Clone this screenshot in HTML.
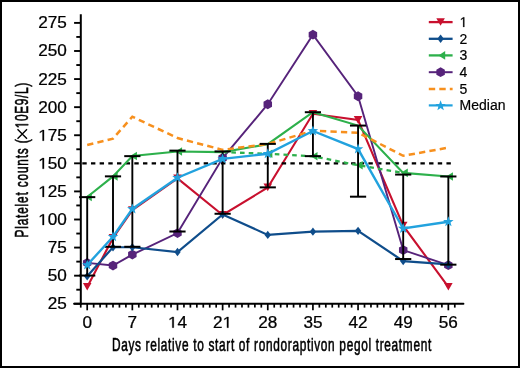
<!DOCTYPE html>
<html><head><meta charset="utf-8">
<style>
html,body{margin:0;padding:0;background:#fff;}
body{width:520px;height:368px;overflow:hidden;}
.wrap{position:relative;width:516px;height:364px;border:2px solid #000;background:#fff;}
svg{position:absolute;left:-2px;top:-2px;}
svg.t{filter:grayscale(1);}
.tk{font-family:"Liberation Sans",sans-serif;font-size:15.6px;fill:#000;stroke:#000;stroke-width:0.25px;}
.ti{font-family:"Liberation Sans",sans-serif;font-size:18.5px;fill:#000;font-weight:normal;stroke:#000;stroke-width:0.6px;}
.h1{fill-opacity:0;stroke-opacity:0;}
.lg{font-family:"Liberation Sans",sans-serif;font-size:14px;fill:#000;stroke:#000;stroke-width:0.2px;}
</style></head><body><div class="wrap">
<svg width="520" height="368" viewBox="0 0 520 368">
<line x1="80.8" y1="14.2" x2="80.8" y2="304.7" stroke="#000" stroke-width="2"/>
<line x1="74" y1="303.75" x2="463.5" y2="303.75" stroke="#000" stroke-width="1.8" stroke-linecap="round"/>
<line x1="74.1" y1="303.75" x2="80.8" y2="303.75" stroke="#000" stroke-width="1.9"/>
<line x1="74.1" y1="275.67" x2="80.8" y2="275.67" stroke="#000" stroke-width="1.9"/>
<line x1="74.1" y1="247.58" x2="80.8" y2="247.58" stroke="#000" stroke-width="1.9"/>
<line x1="74.1" y1="219.50" x2="80.8" y2="219.50" stroke="#000" stroke-width="1.9"/>
<line x1="74.1" y1="191.41" x2="80.8" y2="191.41" stroke="#000" stroke-width="1.9"/>
<line x1="74.1" y1="163.33" x2="80.8" y2="163.33" stroke="#000" stroke-width="1.9"/>
<line x1="74.1" y1="135.24" x2="80.8" y2="135.24" stroke="#000" stroke-width="1.9"/>
<line x1="74.1" y1="107.16" x2="80.8" y2="107.16" stroke="#000" stroke-width="1.9"/>
<line x1="74.1" y1="79.07" x2="80.8" y2="79.07" stroke="#000" stroke-width="1.9"/>
<line x1="74.1" y1="50.99" x2="80.8" y2="50.99" stroke="#000" stroke-width="1.9"/>
<line x1="74.1" y1="22.90" x2="80.8" y2="22.90" stroke="#000" stroke-width="1.9"/>
<line x1="76.3" y1="289.71" x2="80.8" y2="289.71" stroke="#000" stroke-width="1.9"/>
<line x1="76.3" y1="261.62" x2="80.8" y2="261.62" stroke="#000" stroke-width="1.9"/>
<line x1="76.3" y1="233.54" x2="80.8" y2="233.54" stroke="#000" stroke-width="1.9"/>
<line x1="76.3" y1="205.45" x2="80.8" y2="205.45" stroke="#000" stroke-width="1.9"/>
<line x1="76.3" y1="177.37" x2="80.8" y2="177.37" stroke="#000" stroke-width="1.9"/>
<line x1="76.3" y1="149.28" x2="80.8" y2="149.28" stroke="#000" stroke-width="1.9"/>
<line x1="76.3" y1="121.20" x2="80.8" y2="121.20" stroke="#000" stroke-width="1.9"/>
<line x1="76.3" y1="93.11" x2="80.8" y2="93.11" stroke="#000" stroke-width="1.9"/>
<line x1="76.3" y1="65.03" x2="80.8" y2="65.03" stroke="#000" stroke-width="1.9"/>
<line x1="76.3" y1="36.94" x2="80.8" y2="36.94" stroke="#000" stroke-width="1.9"/>
<line x1="80.75" y1="303.75" x2="80.75" y2="307.6" stroke="#000" stroke-width="1.7"/>
<line x1="87.20" y1="303.75" x2="87.20" y2="310.3" stroke="#000" stroke-width="1.7"/>
<line x1="93.65" y1="303.75" x2="93.65" y2="307.6" stroke="#000" stroke-width="1.7"/>
<line x1="100.10" y1="303.75" x2="100.10" y2="307.6" stroke="#000" stroke-width="1.7"/>
<line x1="106.55" y1="303.75" x2="106.55" y2="307.6" stroke="#000" stroke-width="1.7"/>
<line x1="113.00" y1="303.75" x2="113.00" y2="307.6" stroke="#000" stroke-width="1.7"/>
<line x1="119.44" y1="303.75" x2="119.44" y2="307.6" stroke="#000" stroke-width="1.7"/>
<line x1="125.89" y1="303.75" x2="125.89" y2="307.6" stroke="#000" stroke-width="1.7"/>
<line x1="132.34" y1="303.75" x2="132.34" y2="310.3" stroke="#000" stroke-width="1.7"/>
<line x1="138.79" y1="303.75" x2="138.79" y2="307.6" stroke="#000" stroke-width="1.7"/>
<line x1="145.24" y1="303.75" x2="145.24" y2="307.6" stroke="#000" stroke-width="1.7"/>
<line x1="151.69" y1="303.75" x2="151.69" y2="307.6" stroke="#000" stroke-width="1.7"/>
<line x1="158.14" y1="303.75" x2="158.14" y2="307.6" stroke="#000" stroke-width="1.7"/>
<line x1="164.59" y1="303.75" x2="164.59" y2="307.6" stroke="#000" stroke-width="1.7"/>
<line x1="171.04" y1="303.75" x2="171.04" y2="307.6" stroke="#000" stroke-width="1.7"/>
<line x1="177.49" y1="303.75" x2="177.49" y2="310.3" stroke="#000" stroke-width="1.7"/>
<line x1="183.94" y1="303.75" x2="183.94" y2="307.6" stroke="#000" stroke-width="1.7"/>
<line x1="190.38" y1="303.75" x2="190.38" y2="307.6" stroke="#000" stroke-width="1.7"/>
<line x1="196.83" y1="303.75" x2="196.83" y2="307.6" stroke="#000" stroke-width="1.7"/>
<line x1="203.28" y1="303.75" x2="203.28" y2="307.6" stroke="#000" stroke-width="1.7"/>
<line x1="209.73" y1="303.75" x2="209.73" y2="307.6" stroke="#000" stroke-width="1.7"/>
<line x1="216.18" y1="303.75" x2="216.18" y2="307.6" stroke="#000" stroke-width="1.7"/>
<line x1="222.63" y1="303.75" x2="222.63" y2="310.3" stroke="#000" stroke-width="1.7"/>
<line x1="229.08" y1="303.75" x2="229.08" y2="307.6" stroke="#000" stroke-width="1.7"/>
<line x1="235.53" y1="303.75" x2="235.53" y2="307.6" stroke="#000" stroke-width="1.7"/>
<line x1="241.98" y1="303.75" x2="241.98" y2="307.6" stroke="#000" stroke-width="1.7"/>
<line x1="248.43" y1="303.75" x2="248.43" y2="307.6" stroke="#000" stroke-width="1.7"/>
<line x1="254.87" y1="303.75" x2="254.87" y2="307.6" stroke="#000" stroke-width="1.7"/>
<line x1="261.32" y1="303.75" x2="261.32" y2="307.6" stroke="#000" stroke-width="1.7"/>
<line x1="267.77" y1="303.75" x2="267.77" y2="310.3" stroke="#000" stroke-width="1.7"/>
<line x1="274.22" y1="303.75" x2="274.22" y2="307.6" stroke="#000" stroke-width="1.7"/>
<line x1="280.67" y1="303.75" x2="280.67" y2="307.6" stroke="#000" stroke-width="1.7"/>
<line x1="287.12" y1="303.75" x2="287.12" y2="307.6" stroke="#000" stroke-width="1.7"/>
<line x1="293.57" y1="303.75" x2="293.57" y2="307.6" stroke="#000" stroke-width="1.7"/>
<line x1="300.02" y1="303.75" x2="300.02" y2="307.6" stroke="#000" stroke-width="1.7"/>
<line x1="306.47" y1="303.75" x2="306.47" y2="307.6" stroke="#000" stroke-width="1.7"/>
<line x1="312.92" y1="303.75" x2="312.92" y2="310.3" stroke="#000" stroke-width="1.7"/>
<line x1="319.36" y1="303.75" x2="319.36" y2="307.6" stroke="#000" stroke-width="1.7"/>
<line x1="325.81" y1="303.75" x2="325.81" y2="307.6" stroke="#000" stroke-width="1.7"/>
<line x1="332.26" y1="303.75" x2="332.26" y2="307.6" stroke="#000" stroke-width="1.7"/>
<line x1="338.71" y1="303.75" x2="338.71" y2="307.6" stroke="#000" stroke-width="1.7"/>
<line x1="345.16" y1="303.75" x2="345.16" y2="307.6" stroke="#000" stroke-width="1.7"/>
<line x1="351.61" y1="303.75" x2="351.61" y2="307.6" stroke="#000" stroke-width="1.7"/>
<line x1="358.06" y1="303.75" x2="358.06" y2="310.3" stroke="#000" stroke-width="1.7"/>
<line x1="364.51" y1="303.75" x2="364.51" y2="307.6" stroke="#000" stroke-width="1.7"/>
<line x1="370.96" y1="303.75" x2="370.96" y2="307.6" stroke="#000" stroke-width="1.7"/>
<line x1="377.40" y1="303.75" x2="377.40" y2="307.6" stroke="#000" stroke-width="1.7"/>
<line x1="383.85" y1="303.75" x2="383.85" y2="307.6" stroke="#000" stroke-width="1.7"/>
<line x1="390.30" y1="303.75" x2="390.30" y2="307.6" stroke="#000" stroke-width="1.7"/>
<line x1="396.75" y1="303.75" x2="396.75" y2="307.6" stroke="#000" stroke-width="1.7"/>
<line x1="403.20" y1="303.75" x2="403.20" y2="310.3" stroke="#000" stroke-width="1.7"/>
<line x1="409.65" y1="303.75" x2="409.65" y2="307.6" stroke="#000" stroke-width="1.7"/>
<line x1="416.10" y1="303.75" x2="416.10" y2="307.6" stroke="#000" stroke-width="1.7"/>
<line x1="422.55" y1="303.75" x2="422.55" y2="307.6" stroke="#000" stroke-width="1.7"/>
<line x1="429.00" y1="303.75" x2="429.00" y2="307.6" stroke="#000" stroke-width="1.7"/>
<line x1="435.45" y1="303.75" x2="435.45" y2="307.6" stroke="#000" stroke-width="1.7"/>
<line x1="441.89" y1="303.75" x2="441.89" y2="307.6" stroke="#000" stroke-width="1.7"/>
<line x1="448.34" y1="303.75" x2="448.34" y2="310.3" stroke="#000" stroke-width="1.7"/>
<line x1="454.79" y1="303.75" x2="454.79" y2="307.6" stroke="#000" stroke-width="1.7"/>
<path d="M17.5,129.3L27,138.7M17.5,138.7L27,129.3" stroke="#000" stroke-width="1.4" fill="none"/>
<polyline points="87.20,286.90 113.00,237.92 132.34,210.17 177.49,178.38 222.63,215.00 267.77,187.48 312.92,113.78 358.06,119.96 403.20,225.67 448.34,286.90" fill="none" stroke="#C8102E" stroke-width="2.1"/>
<path d="M82.90,283.00L91.50,283.00L87.20,290.60Z" fill="#C8102E"/>
<path d="M108.70,234.02L117.30,234.02L113.00,241.62Z" fill="#C8102E"/>
<path d="M128.04,206.27L136.64,206.27L132.34,213.87Z" fill="#C8102E"/>
<path d="M173.19,174.48L181.79,174.48L177.49,182.08Z" fill="#C8102E"/>
<path d="M218.33,211.10L226.93,211.10L222.63,218.70Z" fill="#C8102E"/>
<path d="M263.47,183.58L272.07,183.58L267.77,191.18Z" fill="#C8102E"/>
<path d="M308.62,109.88L317.22,109.88L312.92,117.48Z" fill="#C8102E"/>
<path d="M353.76,116.06L362.36,116.06L358.06,123.66Z" fill="#C8102E"/>
<path d="M398.90,221.77L407.50,221.77L403.20,229.37Z" fill="#C8102E"/>
<path d="M444.04,283.00L452.64,283.00L448.34,290.60Z" fill="#C8102E"/>
<line x1="82.3" y1="163.33" x2="451" y2="163.33" stroke="#000" stroke-width="2.2" stroke-dasharray="4.4 4.27"/>
<polyline points="87.20,262.86 113.00,265.55 132.34,254.55 177.49,233.09 222.63,158.05 267.77,104.23 312.92,34.70 358.06,96.26 403.20,250.05 448.34,265.22" fill="none" stroke="#56237A" stroke-width="1.9"/>
<polygon points="87.20,257.96 82.96,260.41 82.96,265.31 87.20,267.76 91.44,265.31 91.44,260.41" fill="#56237A"/>
<polygon points="113.00,260.65 108.75,263.10 108.75,268.00 113.00,270.45 117.24,268.00 117.24,263.10" fill="#56237A"/>
<polygon points="132.34,249.65 128.10,252.10 128.10,257.00 132.34,259.45 136.59,257.00 136.59,252.10" fill="#56237A"/>
<polygon points="177.49,228.19 173.24,230.64 173.24,235.54 177.49,237.99 181.73,235.54 181.73,230.64" fill="#56237A"/>
<polygon points="222.63,153.15 218.39,155.60 218.39,160.50 222.63,162.95 226.87,160.50 226.87,155.60" fill="#56237A"/>
<polygon points="267.77,99.33 263.53,101.78 263.53,106.68 267.77,109.13 272.02,106.68 272.02,101.78" fill="#56237A"/>
<polygon points="312.92,29.80 308.67,32.25 308.67,37.15 312.92,39.60 317.16,37.15 317.16,32.25" fill="#56237A"/>
<polygon points="358.06,91.36 353.81,93.81 353.81,98.71 358.06,101.16 362.30,98.71 362.30,93.81" fill="#56237A"/>
<polygon points="403.20,245.15 398.96,247.60 398.96,252.50 403.20,254.95 407.44,252.50 407.44,247.60" fill="#56237A"/>
<polygon points="448.34,260.32 444.10,262.77 444.10,267.67 448.34,270.12 452.59,267.67 452.59,262.77" fill="#56237A"/>
<polyline points="87.20,276.23 113.00,247.24 132.34,247.24 177.49,252.07 222.63,214.44 267.77,234.89 312.92,231.63 358.06,230.84 403.20,261.06 448.34,264.43" fill="none" stroke="#0F4D8B" stroke-width="2.2"/>
<path d="M87.20,272.03L90.40,276.23L87.20,280.43L84.00,276.23Z" fill="#0F4D8B"/>
<path d="M113.00,243.04L116.20,247.24L113.00,251.44L109.80,247.24Z" fill="#0F4D8B"/>
<path d="M132.34,243.04L135.54,247.24L132.34,251.44L129.14,247.24Z" fill="#0F4D8B"/>
<path d="M177.49,247.87L180.69,252.07L177.49,256.27L174.29,252.07Z" fill="#0F4D8B"/>
<path d="M222.63,210.24L225.83,214.44L222.63,218.64L219.43,214.44Z" fill="#0F4D8B"/>
<path d="M267.77,230.69L270.97,234.89L267.77,239.09L264.57,234.89Z" fill="#0F4D8B"/>
<path d="M312.92,227.43L316.12,231.63L312.92,235.83L309.72,231.63Z" fill="#0F4D8B"/>
<path d="M358.06,226.64L361.26,230.84L358.06,235.04L354.86,230.84Z" fill="#0F4D8B"/>
<path d="M403.20,256.86L406.40,261.06L403.20,265.26L400.00,261.06Z" fill="#0F4D8B"/>
<path d="M448.34,260.23L451.54,264.43L448.34,268.63L445.14,264.43Z" fill="#0F4D8B"/>
<polyline points="87.20,197.03 113.00,176.36 132.34,156.02 177.49,151.53 222.63,152.09 267.77,144.23 312.92,112.21 358.06,125.58 403.20,172.87 448.34,176.47" fill="none" stroke="#2DB04B" stroke-width="2.1"/>
<path d="M85.00,197.03L91.80,192.73L91.80,201.33Z" fill="#2DB04B"/>
<path d="M110.80,176.36L117.60,172.06L117.60,180.66Z" fill="#2DB04B"/>
<path d="M130.14,156.02L136.94,151.72L136.94,160.32Z" fill="#2DB04B"/>
<path d="M175.29,151.53L182.09,147.23L182.09,155.83Z" fill="#2DB04B"/>
<path d="M401.00,172.87L407.80,168.57L407.80,177.17Z" fill="#2DB04B"/>
<path d="M446.14,176.47L452.94,172.17L452.94,180.77Z" fill="#2DB04B"/>
<polyline points="222.63,152.09 267.77,153.78 312.92,156.25 358.06,165.23 403.20,172.87" fill="none" stroke="#2DB04B" stroke-width="2.3" stroke-dasharray="4.6 4.1"/>
<path d="M265.57,153.78L272.37,149.48L272.37,158.08Z" fill="#2DB04B"/>
<path d="M310.72,156.25L317.52,151.95L317.52,160.55Z" fill="#2DB04B"/>
<path d="M355.86,165.23L362.66,160.93L362.66,169.53Z" fill="#2DB04B"/>
<polyline points="87.20,145.01 113.00,138.61 132.34,116.70 177.49,138.05 222.63,149.84 267.77,144.00 312.92,130.75 358.06,132.66 403.20,155.80 448.34,147.60" fill="none" stroke="#F7901E" stroke-width="2.5" stroke-dasharray="6.3 4.2"/>
<line x1="87.20" y1="197.14" x2="87.20" y2="275.55" stroke="#000" stroke-width="1.9"/>
<line x1="79.10" y1="197.14" x2="95.30" y2="197.14" stroke="#000" stroke-width="2"/>
<line x1="79.10" y1="275.55" x2="95.30" y2="275.55" stroke="#000" stroke-width="2"/>
<line x1="113.00" y1="176.36" x2="113.00" y2="246.79" stroke="#000" stroke-width="1.9"/>
<line x1="104.90" y1="176.36" x2="121.10" y2="176.36" stroke="#000" stroke-width="2"/>
<line x1="104.90" y1="246.79" x2="121.10" y2="246.79" stroke="#000" stroke-width="2"/>
<line x1="132.34" y1="156.14" x2="132.34" y2="246.79" stroke="#000" stroke-width="1.9"/>
<line x1="124.24" y1="156.14" x2="140.44" y2="156.14" stroke="#000" stroke-width="2"/>
<line x1="124.24" y1="246.79" x2="140.44" y2="246.79" stroke="#000" stroke-width="2"/>
<line x1="177.49" y1="150.63" x2="177.49" y2="231.52" stroke="#000" stroke-width="1.9"/>
<line x1="169.39" y1="150.63" x2="185.59" y2="150.63" stroke="#000" stroke-width="2"/>
<line x1="169.39" y1="231.52" x2="185.59" y2="231.52" stroke="#000" stroke-width="2"/>
<line x1="222.63" y1="151.42" x2="222.63" y2="213.77" stroke="#000" stroke-width="1.9"/>
<line x1="214.53" y1="151.42" x2="230.73" y2="151.42" stroke="#000" stroke-width="2"/>
<line x1="214.53" y1="213.77" x2="230.73" y2="213.77" stroke="#000" stroke-width="2"/>
<line x1="267.77" y1="143.89" x2="267.77" y2="187.37" stroke="#000" stroke-width="1.9"/>
<line x1="259.67" y1="143.89" x2="275.87" y2="143.89" stroke="#000" stroke-width="2"/>
<line x1="259.67" y1="187.37" x2="275.87" y2="187.37" stroke="#000" stroke-width="2"/>
<line x1="312.92" y1="112.21" x2="312.92" y2="156.14" stroke="#000" stroke-width="1.9"/>
<line x1="304.81" y1="112.21" x2="321.02" y2="112.21" stroke="#000" stroke-width="2"/>
<line x1="304.81" y1="156.14" x2="321.02" y2="156.14" stroke="#000" stroke-width="2"/>
<line x1="358.06" y1="125.58" x2="358.06" y2="196.69" stroke="#000" stroke-width="1.9"/>
<line x1="349.96" y1="125.58" x2="366.16" y2="125.58" stroke="#000" stroke-width="2"/>
<line x1="349.96" y1="196.69" x2="366.16" y2="196.69" stroke="#000" stroke-width="2"/>
<line x1="403.20" y1="174.56" x2="403.20" y2="259.04" stroke="#000" stroke-width="1.9"/>
<line x1="395.10" y1="174.56" x2="411.30" y2="174.56" stroke="#000" stroke-width="2"/>
<line x1="395.10" y1="259.04" x2="411.30" y2="259.04" stroke="#000" stroke-width="2"/>
<line x1="448.34" y1="176.47" x2="448.34" y2="264.66" stroke="#000" stroke-width="1.9"/>
<line x1="440.24" y1="176.47" x2="456.44" y2="176.47" stroke="#000" stroke-width="2"/>
<line x1="440.24" y1="264.66" x2="456.44" y2="264.66" stroke="#000" stroke-width="2"/>
<polyline points="87.20,264.99 113.00,236.80 132.34,208.94 177.49,177.70 222.63,158.83 267.77,153.78 312.92,130.97 358.06,149.06 403.20,228.48 448.34,221.74" fill="none" stroke="#22A2DE" stroke-width="2.4"/>
<polygon points="87.20,259.49 85.85,263.13 81.97,263.29 85.01,265.70 83.97,269.44 87.20,267.29 90.43,269.44 89.39,265.70 92.43,263.29 88.55,263.13" fill="#22A2DE"/>
<polygon points="113.00,231.30 111.64,234.93 107.77,235.10 110.81,237.51 109.76,241.24 113.00,239.10 116.23,241.24 115.18,237.51 118.23,235.10 114.35,234.93" fill="#22A2DE"/>
<polygon points="132.34,203.44 130.99,207.07 127.11,207.24 130.16,209.65 129.11,213.38 132.34,211.24 135.58,213.38 134.53,209.65 137.57,207.24 133.69,207.07" fill="#22A2DE"/>
<polygon points="177.49,172.20 176.13,175.84 172.26,176.00 175.30,178.42 174.25,182.15 177.49,180.00 180.72,182.15 179.67,178.42 182.72,176.00 178.84,175.84" fill="#22A2DE"/>
<polygon points="222.63,153.33 221.28,156.97 217.40,157.13 220.44,159.54 219.40,163.28 222.63,161.13 225.86,163.28 224.82,159.54 227.86,157.13 223.98,156.97" fill="#22A2DE"/>
<polygon points="267.77,148.28 266.42,151.92 262.54,152.08 265.58,154.49 264.54,158.23 267.77,156.08 271.00,158.23 269.96,154.49 273.00,152.08 269.12,151.92" fill="#22A2DE"/>
<polygon points="312.92,125.47 311.56,129.11 307.68,129.27 310.73,131.68 309.68,135.42 312.92,133.27 316.15,135.42 315.10,131.68 318.15,129.27 314.27,129.11" fill="#22A2DE"/>
<polygon points="358.06,143.56 356.71,147.20 352.83,147.36 355.87,149.77 354.83,153.51 358.06,151.36 361.29,153.51 360.25,149.77 363.29,147.36 359.41,147.20" fill="#22A2DE"/>
<polygon points="403.20,222.98 401.85,226.62 397.97,226.78 401.01,229.19 399.97,232.93 403.20,230.78 406.43,232.93 405.39,229.19 408.43,226.78 404.55,226.62" fill="#22A2DE"/>
<polygon points="448.34,216.24 446.99,219.88 443.11,220.04 446.16,222.45 445.11,226.19 448.34,224.04 451.58,226.19 450.53,222.45 453.57,220.04 449.70,219.88" fill="#22A2DE"/>
<line x1="428.8" y1="22.1" x2="452.6" y2="22.1" stroke="#C8102E" stroke-width="2.3"/>
<path d="M436.30,18.20L444.90,18.20L440.60,25.80Z" fill="#C8102E"/>
<line x1="428.8" y1="38.8" x2="452.6" y2="38.8" stroke="#0F4D8B" stroke-width="2.3"/>
<path d="M440.60,34.60L443.80,38.80L440.60,43.00L437.40,38.80Z" fill="#0F4D8B"/>
<line x1="428.8" y1="55.4" x2="452.6" y2="55.4" stroke="#2DB04B" stroke-width="2.3"/>
<path d="M438.40,55.40L445.20,51.10L445.20,59.70Z" fill="#2DB04B"/>
<line x1="428.8" y1="72.2" x2="452.6" y2="72.2" stroke="#56237A" stroke-width="2.0"/>
<polygon points="440.60,67.30 436.36,69.75 436.36,74.65 440.60,77.10 444.84,74.65 444.84,69.75" fill="#56237A"/>
<line x1="428.8" y1="88.9" x2="452.6" y2="88.9" stroke="#F7901E" stroke-width="2.5" stroke-dasharray="6.4 4.1"/>
<line x1="428.8" y1="105.4" x2="452.6" y2="105.4" stroke="#22A2DE" stroke-width="2.2"/>
<polygon points="440.60,100.30 439.25,103.94 435.37,104.10 438.41,106.51 437.37,110.25 440.60,108.10 443.83,110.25 442.79,106.51 445.83,104.10 441.95,103.94" fill="#22A2DE"/>
</svg>
<svg class="t" width="520" height="368" viewBox="0 0 520 368">
<text x="0" y="0" text-anchor="end" class="tk" transform="translate(66.8 309.25) scale(1.1 1)">25</text>
<text x="0" y="0" text-anchor="end" class="tk" transform="translate(66.8 281.17) scale(1.1 1)">50</text>
<text x="0" y="0" text-anchor="end" class="tk" transform="translate(66.8 253.08) scale(1.1 1)">75</text>
<text id="t1" x="0" y="0" text-anchor="end" class="tk" transform="translate(66.8 225.00) scale(1.1 1)"><tspan class="h1">1</tspan>00</text>
<path transform="translate(66.8 225.00) scale(1.1 1) translate(-25.997 0.000) scale(0.007617 -0.007617)" d="M515,0L515,1237L197,1010L197,1180L530,1409L696,1409L696,0Z" fill="#000" stroke="#000" stroke-width="32.821"/>
<text id="t2" x="0" y="0" text-anchor="end" class="tk" transform="translate(66.8 196.91) scale(1.1 1)"><tspan class="h1">1</tspan>25</text>
<path transform="translate(66.8 196.91) scale(1.1 1) translate(-25.997 0.000) scale(0.007617 -0.007617)" d="M515,0L515,1237L197,1010L197,1180L530,1409L696,1409L696,0Z" fill="#000" stroke="#000" stroke-width="32.821"/>
<text id="t3" x="0" y="0" text-anchor="end" class="tk" transform="translate(66.8 168.83) scale(1.1 1)"><tspan class="h1">1</tspan>50</text>
<path transform="translate(66.8 168.83) scale(1.1 1) translate(-25.997 0.000) scale(0.007617 -0.007617)" d="M515,0L515,1237L197,1010L197,1180L530,1409L696,1409L696,0Z" fill="#000" stroke="#000" stroke-width="32.821"/>
<text id="t4" x="0" y="0" text-anchor="end" class="tk" transform="translate(66.8 140.74) scale(1.1 1)"><tspan class="h1">1</tspan>75</text>
<path transform="translate(66.8 140.74) scale(1.1 1) translate(-25.997 0.000) scale(0.007617 -0.007617)" d="M515,0L515,1237L197,1010L197,1180L530,1409L696,1409L696,0Z" fill="#000" stroke="#000" stroke-width="32.821"/>
<text x="0" y="0" text-anchor="end" class="tk" transform="translate(66.8 112.66) scale(1.1 1)">200</text>
<text x="0" y="0" text-anchor="end" class="tk" transform="translate(66.8 84.57) scale(1.1 1)">225</text>
<text x="0" y="0" text-anchor="end" class="tk" transform="translate(66.8 56.49) scale(1.1 1)">250</text>
<text x="0" y="0" text-anchor="end" class="tk" transform="translate(66.8 28.40) scale(1.1 1)">275</text>
<text x="0" y="0" text-anchor="middle" class="tk" transform="translate(87.20 327.7) scale(1.1 1)">0</text>
<text x="0" y="0" text-anchor="middle" class="tk" transform="translate(132.34 327.7) scale(1.1 1)">7</text>
<text id="t5" x="0" y="0" text-anchor="middle" class="tk" transform="translate(177.49 327.7) scale(1.1 1)"><tspan class="h1">1</tspan>4</text>
<path transform="translate(177.49 327.7) scale(1.1 1) translate(-8.666 0.000) scale(0.007617 -0.007617)" d="M515,0L515,1237L197,1010L197,1180L530,1409L696,1409L696,0Z" fill="#000" stroke="#000" stroke-width="32.821"/>
<text id="t6" x="0" y="0" text-anchor="middle" class="tk" transform="translate(222.63 327.7) scale(1.1 1)">2<tspan class="h1">1</tspan></text>
<path transform="translate(222.63 327.7) scale(1.1 1) translate(0.000 0.000) scale(0.007617 -0.007617)" d="M515,0L515,1237L197,1010L197,1180L530,1409L696,1409L696,0Z" fill="#000" stroke="#000" stroke-width="32.821"/>
<text x="0" y="0" text-anchor="middle" class="tk" transform="translate(267.77 327.7) scale(1.1 1)">28</text>
<text x="0" y="0" text-anchor="middle" class="tk" transform="translate(312.92 327.7) scale(1.1 1)">35</text>
<text x="0" y="0" text-anchor="middle" class="tk" transform="translate(358.06 327.7) scale(1.1 1)">42</text>
<text x="0" y="0" text-anchor="middle" class="tk" transform="translate(403.20 327.7) scale(1.1 1)">49</text>
<text x="0" y="0" text-anchor="middle" class="tk" transform="translate(448.34 327.7) scale(1.1 1)">56</text>
<text x="0" y="0" text-anchor="middle" class="ti" style="letter-spacing:1.05px" transform="translate(271.9 350.5) scale(0.642 1)">Days relative to start of rondoraptivon pegol treatment</text>
<text x="0" y="0" text-anchor="start" class="ti" style="letter-spacing:1.27px" transform="translate(28.2 237.5) rotate(-90) scale(0.642 1)">Platelet counts (</text>
<text id="t7" x="0" y="0" text-anchor="end" class="ti" transform="translate(28.2 82.1) rotate(-90) scale(0.643 1)" style="letter-spacing:1.0px"><tspan class="h1">1</tspan>0E9/L)</text>
<path transform="translate(28.2 82.1) rotate(-90) scale(0.643 1) translate(-71.799 0.000) scale(0.009033 -0.009033)" d="M515,0L515,1237L197,1010L197,1180L530,1409L696,1409L696,0Z" fill="#000" stroke="#000" stroke-width="66.422"/>
<text id="t8" x="459.6" y="27.00" class="lg"><tspan class="h1">1</tspan></text>
<path transform=" translate(459.600 27.000) scale(0.006836 -0.006836)" d="M515,0L515,1237L197,1010L197,1180L530,1409L696,1409L696,0Z" fill="#000" stroke="#000" stroke-width="29.257"/>
<text x="459.6" y="43.70" class="lg">2</text>
<text x="459.6" y="60.30" class="lg">3</text>
<text x="459.6" y="77.10" class="lg">4</text>
<text x="459.6" y="93.80" class="lg">5</text>
<text x="459.6" y="110.30" class="lg">Median</text>
</svg></div></body></html>
